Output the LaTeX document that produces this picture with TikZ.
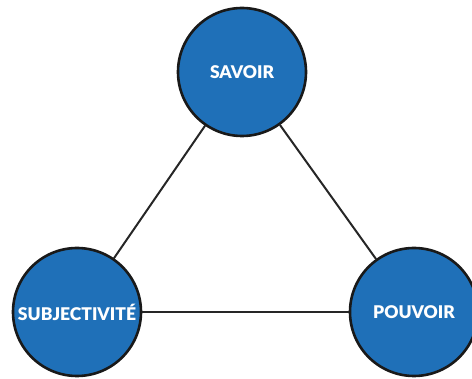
\documentclass[tikz,border=0pt]{standalone}
\usepackage{fontspec}
\setmainfont{Lato}[BoldFont={Lato Black}]
\definecolor{pole}{HTML}{1F70B8}
\begin{document}
\begin{tikzpicture}[x=1pt,y=-1pt,
  polebox/.style={circle, draw=black!90, line width=2.6pt, fill=pole,
    minimum size=128pt, inner sep=0pt, text=white,
    font=\fontsize{17.5}{17.5}\selectfont\bfseries},
  link/.style={draw=black!85, line width=2pt, line cap=round}]
  \useasboundingbox (0,0) rectangle (472,379);
  \node[polebox] (savoir) at (242,72) {SAVOIR};
  \node[polebox] (subj) at (77,312) {SUBJECTIVITÉ};
  \node[polebox] (pouvoir) at (414,312) {POUVOIR};
  \draw[link] (savoir) -- (subj);
  \draw[link] (savoir) -- (pouvoir);
  \draw[link] (subj) -- (pouvoir);
\end{tikzpicture}
\end{document}
